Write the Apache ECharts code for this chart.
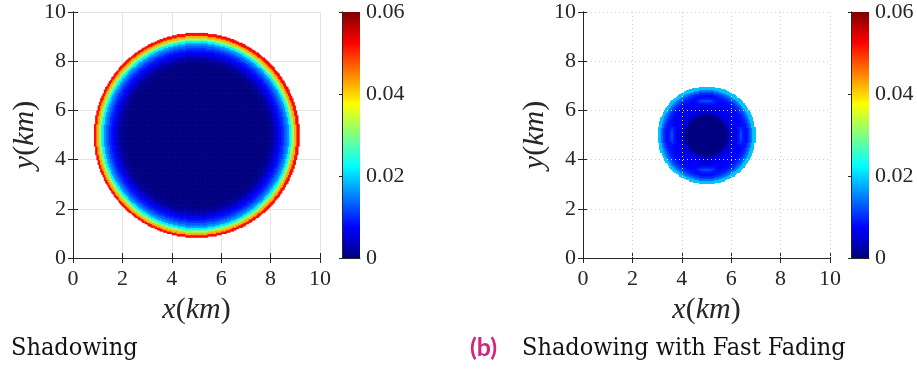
<!DOCTYPE html>
<html>
<head>
<meta charset="utf-8">
<script src="https://cdn.jsdelivr.net/npm/echarts@6/dist/echarts.min.js"></script>
<style>html,body{margin:0;padding:0;background:#fff;}#c{width:917px;height:370px;}</style>
</head>
<body>
<div id="c"></div>
<script>
// ---- data ----
const axisTicks = [0, 2, 4, 6, 8, 10];
const colorbarTicks = [0, 0.02, 0.04, 0.06];
const centerKm = [5, 5];
const profileStepKm = 0.1;
// (a) Shadowing: value vs radius from centre, r = 0.0, 0.1, ... 4.1 km
const shadowProfile = [
  0,0,0,0,0,0,0,0,0,0,
  0,0,0,0,0,0,0,0,0,0,
  0,0,0,0,0,0,0,0,0,0.0005,
  0.001,0.002,0.004,0.006,0.008,0.010,0.013,0.016,0.022,0.031,
  0.042,0.052
];
// (b) Shadowing with fast fading: along the x/y axes and along diagonals, r = 0.0 ... 1.9 km
const fadingAxisProfile = [
  0,0,0,0,0,0,0,0,0,
  0.004,0.005,0.006,0.006,0.009,0.012,0.009,0.008,0.010,0.014,0.019
];
const fadingDiagProfile = [
  0,0,0,0,0,0,0,0,0,
  0.004,0.006,0.006,0.007,0.007,0.007,0.008,0.009,0.011,0.014,0.019
];
// weight of the axis-profile lobes per 5 degree bin away from the nearest axis
const fadingLobeWeight = [1, 0.9, 0.6, 0.2, 0, 0, 0, 0, 0];
const cellKm = 0.05;

// jet colour map
const jet = ['#000080','#0000ff','#0080ff','#00ffff','#80ff80','#ffff00','#ff8000','#ff0000','#800000'];

// ---- build fields ----
function buildField(lookup) {
  const out = [];
  const n = Math.round(10 / cellKm);
  for (let i = 0; i < n; i++) {
    for (let j = 0; j < n; j++) {
      const x = (i + 0.5) * cellKm, y = (j + 0.5) * cellKm;
      const v = lookup(x - centerKm[0], y - centerKm[1]);
      if (v !== null) out.push([x, y, v]);
    }
  }
  return out;
}
const shadowData = buildField(function (dx, dy) {
  const k = Math.round(Math.hypot(dx, dy) / profileStepKm);
  return k < shadowProfile.length ? shadowProfile[k] : null;
});
const fadingData = buildField(function (dx, dy) {
  const k = Math.round(Math.hypot(dx, dy) / profileStepKm);
  if (k >= fadingAxisProfile.length) return null;
  let ang = Math.abs(Math.atan2(dy, dx)) * 180 / Math.PI;
  ang = ang % 90; if (ang > 45) ang = 90 - ang;
  const w = fadingLobeWeight[Math.min(8, Math.floor(ang / 5))];
  return fadingDiagProfile[k] + w * (fadingAxisProfile[k] - fadingDiagProfile[k]);
});

// ---- chart ----
const FONT = 'Liberation Serif';
const INK = '#262626';
const half = cellKm / 2;
function renderCell(params, api) {
  const x = api.value(0), y = api.value(1);
  const p0 = api.coord([x - half, y + half]);
  const p1 = api.coord([x + half, y - half]);
  return {
    type: 'rect',
    shape: { x: p0[0], y: p0[1], width: p1[0] - p0[0] + 0.6, height: p1[1] - p0[1] + 0.6 },
    style: { fill: api.visual('color') }
  };
}
function renderBar(params, api) {
  const p0 = api.coord([0, colorbarTicks[colorbarTicks.length - 1]]);
  const p1 = api.coord([1, colorbarTicks[0]]);
  const stops = jet.map((c, i) => ({ offset: i / (jet.length - 1), color: c }));
  return {
    type: 'rect',
    shape: { x: p0[0], y: p0[1], width: p1[0] - p0[0], height: p1[1] - p0[1] },
    style: { fill: new echarts.graphic.LinearGradient(0, 1, 0, 0, stops) }
  };
}

const grids = [
  { left: 73, top: 12, width: 247, height: 246 },
  { left: 583, top: 12, width: 247, height: 246 },
  { left: 342, top: 12, width: 18, height: 246 },
  { left: 851, top: 12, width: 18, height: 246 }
];
const nameRich = {
  i: { fontFamily: FONT, fontStyle: 'italic', fontSize: 30, color: INK },
  n: { fontFamily: FONT, fontSize: 30, color: INK }
};
function mainX(gi, dotted) {
  return [{
    type: 'value', gridIndex: gi, min: axisTicks[0], max: axisTicks[axisTicks.length - 1], interval: 2,
    position: 'bottom',
    axisLine: { show: true, lineStyle: { color: INK, width: 1 } },
    axisTick: { show: true, inside: true, length: 5, lineStyle: { color: INK } },
    axisLabel: { fontFamily: FONT, fontSize: 22, color: INK, margin: 10 },
    splitLine: { show: !dotted, lineStyle: { color: '#e4e4e4', width: 1 } },
    name: '{i|x}{n|(}{i|km}{n|)}', nameLocation: 'middle', nameGap: 36,
    nameTextStyle: { rich: nameRich }
  }, {
    type: 'value', gridIndex: gi, min: 0, max: 10, interval: 2, position: 'top', z: 5,
    axisLine: { show: true, lineStyle: { color: INK, width: 1 } },
    axisTick: { show: true, inside: true, length: 5, lineStyle: { color: INK } },
    axisLabel: { show: false },
    splitLine: { show: dotted, lineStyle: { color: '#cfcfcf', type: [1, 3], width: 1 } }
  }];
}
function mainY(gi, dotted) {
  return [{
    type: 'value', gridIndex: gi, min: axisTicks[0], max: axisTicks[axisTicks.length - 1], interval: 2,
    position: 'left',
    axisLine: { show: true, lineStyle: { color: INK, width: 1 } },
    axisTick: { show: true, inside: true, length: 5, lineStyle: { color: INK } },
    axisLabel: { fontFamily: FONT, fontSize: 22, color: INK, margin: 7 },
    splitLine: { show: !dotted, lineStyle: { color: '#e4e4e4', width: 1 } },
    name: '{i|y}{n|(}{i|km}{n|)}', nameLocation: 'middle', nameGap: 32,
    nameTextStyle: { rich: nameRich }
  }, {
    type: 'value', gridIndex: gi, min: 0, max: 10, interval: 2, position: 'right', z: 5,
    axisLine: { show: true, lineStyle: { color: INK, width: 1 } },
    axisTick: { show: true, inside: true, length: 5, lineStyle: { color: INK } },
    axisLabel: { show: false },
    splitLine: { show: dotted, lineStyle: { color: '#cfcfcf', type: [1, 3], width: 1 } }
  }];
}
function barX(gi) {
  return {
    type: 'value', gridIndex: gi, min: 0, max: 1, show: true,
    axisLine: { show: true, onZero: false, lineStyle: { color: INK } }, axisTick: { show: false },
    axisLabel: { show: false }, splitLine: { show: false }
  };
}
function barY(gi) {
  return [{
    type: 'value', gridIndex: gi, min: 0, max: 0.06, interval: 0.02, position: 'right', z: 5,
    axisLine: { show: true, lineStyle: { color: INK } },
    axisTick: { show: true, inside: true, length: 3, lineStyle: { color: INK } },
    axisLabel: { fontFamily: FONT, fontSize: 22, color: INK, margin: 6,
      formatter: v => (v === 0 ? '0' : v.toFixed(2)) },
    splitLine: { show: false }
  }, {
    type: 'value', gridIndex: gi, min: 0, max: 0.06, position: 'left',
    axisLine: { show: true, lineStyle: { color: INK } }, axisTick: { show: false },
    axisLabel: { show: false }, splitLine: { show: false }
  }];
}

const xAxes = [].concat(mainX(0, false), mainX(1, true), [barX(2), barX(3)]);
const yAxes = [].concat(mainY(0, false), mainY(1, true), barY(2), barY(3));

const chart = echarts.init(document.getElementById('c'), null, { renderer: 'canvas' });
chart.setOption({
  animation: false,
  backgroundColor: '#fff',
  grid: grids,
  xAxis: xAxes,
  yAxis: yAxes,
  visualMap: {
    type: 'continuous', show: false, min: 0, max: 0.06, dimension: 2, seriesIndex: [0, 1],
    inRange: { color: jet }
  },
  series: [
    { type: 'custom', xAxisIndex: 0, yAxisIndex: 0, data: shadowData, renderItem: renderCell,
      encode: { x: 0, y: 1 }, z: 2, silent: true },
    { type: 'custom', xAxisIndex: 2, yAxisIndex: 2, data: fadingData, renderItem: renderCell,
      encode: { x: 0, y: 1 }, z: 2, silent: true },
    { type: 'custom', xAxisIndex: 4, yAxisIndex: 4, data: [[0.5, 0.03]], renderItem: renderBar, z: 1, silent: true },
    { type: 'custom', xAxisIndex: 5, yAxisIndex: 6, data: [[0.5, 0.03]], renderItem: renderBar, z: 1, silent: true }
  ],
  graphic: [
    { type: 'text', left: 11, top: 336, style: { text: 'Shadowing', fontFamily: 'DejaVu Serif Condensed', fontSize: 25, fill: '#111' } },
    { type: 'text', left: 470, top: 335, style: { text: '(b)', fontFamily: 'Lato', fontWeight: 'bold', fontSize: 25, fill: '#d1267e' } },
    { type: 'text', left: 522, top: 336, style: { text: 'Shadowing with Fast Fading', fontFamily: 'DejaVu Serif Condensed', fontSize: 25, fill: '#111' } }
  ]
});
</script>
</body>
</html>
